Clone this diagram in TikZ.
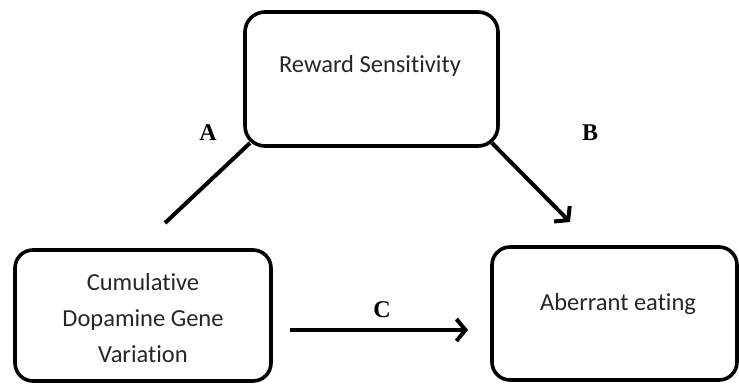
\documentclass[tikz,border=0pt]{standalone}
\usepackage{fontspec}
\setmainfont[Ligatures={NoCommon}]{Carlito}
\newfontfamily\labelfont{Liberation Serif}
\usetikzlibrary{arrows.meta}
\tikzset{
  box/.style={draw=black, line width=3.6pt, rounded corners=20pt, inner sep=0pt},
  boxtext/.style={font=\fontsize{24.5}{36}\selectfont, text=black!85, align=center, inner sep=0pt},
  lbl/.style={font=\labelfont\bfseries\fontsize{24}{26}\selectfont, inner sep=0pt},
  conn/.style={line width=4pt},
  arr/.style={conn, -{Straight Barb[length=9pt,width=22pt,line width=4pt]}}
}
\begin{document}
\begin{tikzpicture}[x=1pt,y=-1pt]
\useasboundingbox (0,0) rectangle (739,383);
% boxes
\draw[box] (245,12) rectangle (498,146);
\node[inner sep=0pt] (top) at (371.5,79) {};
\draw[box, rounded corners=18pt] (15,250) rectangle (271,381);
\node[inner sep=0pt] (left) at (143,315.5) {};
\draw[box, rounded corners=18pt] (492,247) rectangle (737,380);
\node[inner sep=0pt] (right) at (614.5,313.5) {};
% texts
\node[boxtext] (toptext) at (370,66) {Reward Sensitivity};
\node[boxtext] (lefttext) at (143,318) {Cumulative\\Dopamine Gene\\Variation};
\node[boxtext] (righttext) at (618,304) {Aberrant eating};
% connector end points
\coordinate (topsw) at (250,143);
\coordinate (topse) at (492,143);
\coordinate (aend) at (165,223);
\coordinate (bend) at (570,222);
\coordinate (cstart) at (290,330);
\coordinate (cend) at (468,330);
% connectors
\draw[conn] (aend) -- (topsw);
\draw[arr] (topse) -- (bend);
\draw[arr] (cstart) -- (cend);
% labels
\node[lbl] (la) at (208,133) {A};
\node[lbl] (lb) at (590,133) {B};
\node[lbl] (lc) at (382,310) {C};
\end{tikzpicture}
\end{document}
